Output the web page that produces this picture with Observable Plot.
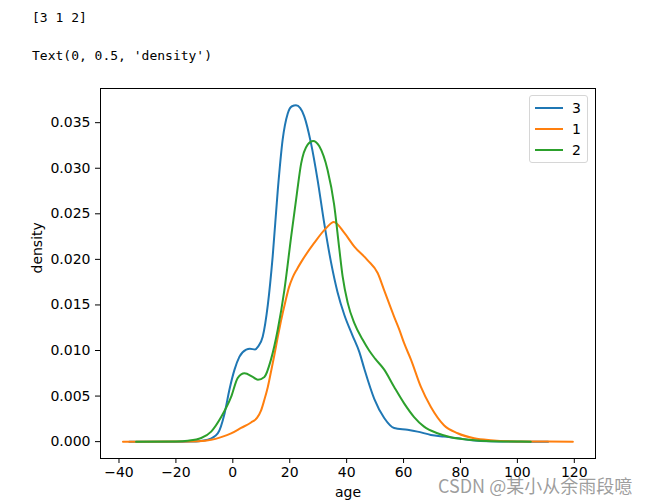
<!DOCTYPE html>
<html>
<head>
<meta charset="utf-8">
<script src="https://cdn.jsdelivr.net/npm/d3@7"></script>
<script src="https://cdn.jsdelivr.net/npm/@observablehq/plot@0.6"></script>
<style>
  html, body { margin: 0; padding: 0; background: #fff; }
  #page { position: relative; width: 665px; height: 502px; overflow: hidden; }
  .out { position: absolute; left: 32px; font-family: "DejaVu Sans Mono", monospace; font-size: 13px; line-height: 13px; color: #000; white-space: pre; }
  #chart { position: absolute; left: 0; top: 0; }
  #legend { position: absolute; left: 529px; top: 95px; width: 57px; height: 66px; border: 1px solid #d6d6d6; border-radius: 3px; background: rgba(255,255,255,0.8); font-family: "DejaVu Sans", sans-serif; font-size: 14px; }
  .row { position: absolute; left: 0; height: 20px; width: 57px; }
  .sw { position: absolute; left: 5px; top: 9px; width: 28px; height: 2px; }
  .lab { position: absolute; left: 42px; top: 1px; line-height: 18px; }
  #wm { position: absolute; left: 438px; top: 472px; font-family: "Noto Sans CJK SC", "Noto Sans", sans-serif; font-size: 18px; color: rgba(140,140,140,0.85); white-space: nowrap; text-shadow: 0 0 1px rgba(255,255,255,0.9); }
</style>
</head>
<body>
<div id="page">
  <div id="chart"></div>
  <div class="out" style="top:11px">[3 1 2]</div>
  <div class="out" style="top:49px">Text(0, 0.5, 'density')</div>
  <div id="legend"></div>
  <div id="wm">CSDN @某小从余雨段噫</div>
</div>
<script>
// Series order and labels as printed: [3 1 2]
const classes = ["3", "1", "2"];
const colors = ["#1f77b4", "#ff7f0e", "#2ca02c"];

// Class 3 (blue) density curve
const age3 = [-36.4, -20, -15, -12, -8.8, -5.3, -2.9, -1.2, 0.6, 2.3, 4.7, 6.0, 7.8, 8.8, 10.5, 12.3, 14.0, 15.8, 17.5, 19.3, 20.8, 22.2, 23.7, 25.1, 27.5, 29.8, 32.1, 34.5, 36.8, 39.2, 42.0, 44.5, 46.2, 49.7, 53.2, 56.7, 61.4, 64.9, 69.6, 74.2, 79, 84, 90, 100, 110.8];
const dens3 = [0, 0, 0.00002, 0.00005, 0.0002, 0.0009, 0.0031, 0.0057, 0.0079, 0.0093, 0.0101, 0.0102, 0.0101, 0.0104, 0.0115, 0.0150, 0.0203, 0.0276, 0.0331, 0.0360, 0.0368, 0.0369, 0.0366, 0.0357, 0.0327, 0.0287, 0.0240, 0.0197, 0.0164, 0.0139, 0.0117, 0.0098, 0.0080, 0.0047, 0.0026, 0.0015, 0.0013, 0.0011, 0.00074, 0.00055, 0.00037, 0.00015, 0.00003, 0, 0];

// Class 1 (orange)
const age1 = [-38.6, -20, -12, -7.6, -4.1, -0.6, 2.9, 6.4, 8.5, 9.9, 11.0, 12.3, 13.5, 14.6, 15.8, 16.9, 18.5, 19.7, 21.0, 22.5, 24.0, 28.6, 32.7, 35.5, 39.2, 42.7, 47.4, 50.9, 53.2, 56.7, 58.5, 60.2, 62.6, 66.1, 69.6, 74.2, 79, 84.8, 90.6, 100, 119.5];
const dens1 = [0, 0.00001, 0.00005, 0.0002, 0.0005, 0.0009, 0.0015, 0.0021, 0.0026, 0.0034, 0.0045, 0.0060, 0.0078, 0.0095, 0.0115, 0.0132, 0.0154, 0.0169, 0.0180, 0.0189, 0.0197, 0.0218, 0.0234, 0.0241, 0.0229, 0.0214, 0.0199, 0.0185, 0.0166, 0.0137, 0.0123, 0.0108, 0.0090, 0.0060, 0.0038, 0.0018, 0.00092, 0.00037, 0.00015, 0.00002, 0];

// Class 2 (green)
const age2 = [-34.0, -20, -15.8, -11.1, -7.6, -4.1, -0.6, 1.75, 4.1, 7.0, 8.8, 11.1, 13.4, 15.8, 18.1, 20.5, 22.5, 24.0, 26.3, 28.2, 30.4, 33.3, 35.6, 37.4, 38.6, 40.4, 42.7, 45.6, 47.9, 50.0, 53.2, 56.7, 60.2, 63.7, 67.2, 71.9, 76.6, 81.3, 87, 95, 104.7];
const dens2 = [0, 0.00002, 0.0001, 0.0004, 0.0011, 0.0027, 0.0049, 0.0070, 0.0075, 0.0071, 0.0068, 0.0071, 0.0090, 0.0123, 0.0166, 0.0225, 0.0272, 0.0305, 0.0326, 0.0330, 0.0324, 0.0298, 0.0260, 0.0212, 0.0181, 0.0152, 0.0130, 0.0112, 0.0100, 0.0091, 0.0079, 0.0060, 0.0042, 0.0027, 0.00165, 0.00092, 0.00048, 0.00026, 0.0001, 0.00001, 0];

const xTicks = [-40, -20, 0, 20, 40, 60, 80, 100, 120];
const yTicks = [0, 0.005, 0.010, 0.015, 0.020, 0.025, 0.030, 0.035];

const seriesAges = [age3, age1, age2];
const seriesDens = [dens3, dens1, dens2];

const fmtX = d => d < 0 ? "\u2212" + Math.abs(d) : String(d);

const lineMarks = classes.map((c, i) => {
  const rows = seriesAges[i].map((a, j) => ({age: a, density: seriesDens[i][j]}));
  return Plot.line(rows, {x: "age", y: "density", stroke: colors[i], strokeWidth: 2, curve: "monotone-x"});
});

const chart = Plot.plot({
  width: 665,
  height: 502,
  marginLeft: 100,
  marginRight: 70,
  marginTop: 88,
  marginBottom: 44,
  style: {fontFamily: "DejaVu Sans, sans-serif", fontSize: "14px", color: "#000", background: "transparent"},
  x: {domain: [-46.5, 127.45]},
  y: {domain: [-0.00185, 0.03875]},
  marks: [
    ...lineMarks,
    Plot.axisX({ticks: xTicks, tickFormat: fmtX, tickSize: 5, tickPadding: 4, label: null, fontSize: 14}),
    Plot.axisY({ticks: yTicks, tickFormat: d3.format(".3f"), tickSize: 5, tickPadding: 5, label: null, fontSize: 14}),
    Plot.frame({stroke: "#000", strokeWidth: 1}),
    Plot.text(["age"], {frameAnchor: "bottom", dy: 34, fontSize: 14, lineAnchor: "middle"}),
    Plot.text(["density"], {frameAnchor: "left", dx: -63, rotate: -90, fontSize: 14, lineAnchor: "middle"})
  ]
});
document.getElementById("chart").appendChild(chart);

// Legend
const legend = document.getElementById("legend");
classes.forEach((c, i) => {
  const row = document.createElement("div");
  row.className = "row";
  row.style.top = (2 + i * 21) + "px";
  const sw = document.createElement("div");
  sw.className = "sw";
  sw.style.background = colors[i];
  const lab = document.createElement("div");
  lab.className = "lab";
  lab.textContent = c;
  row.appendChild(sw);
  row.appendChild(lab);
  legend.appendChild(row);
});
</script>
</body>
</html>
